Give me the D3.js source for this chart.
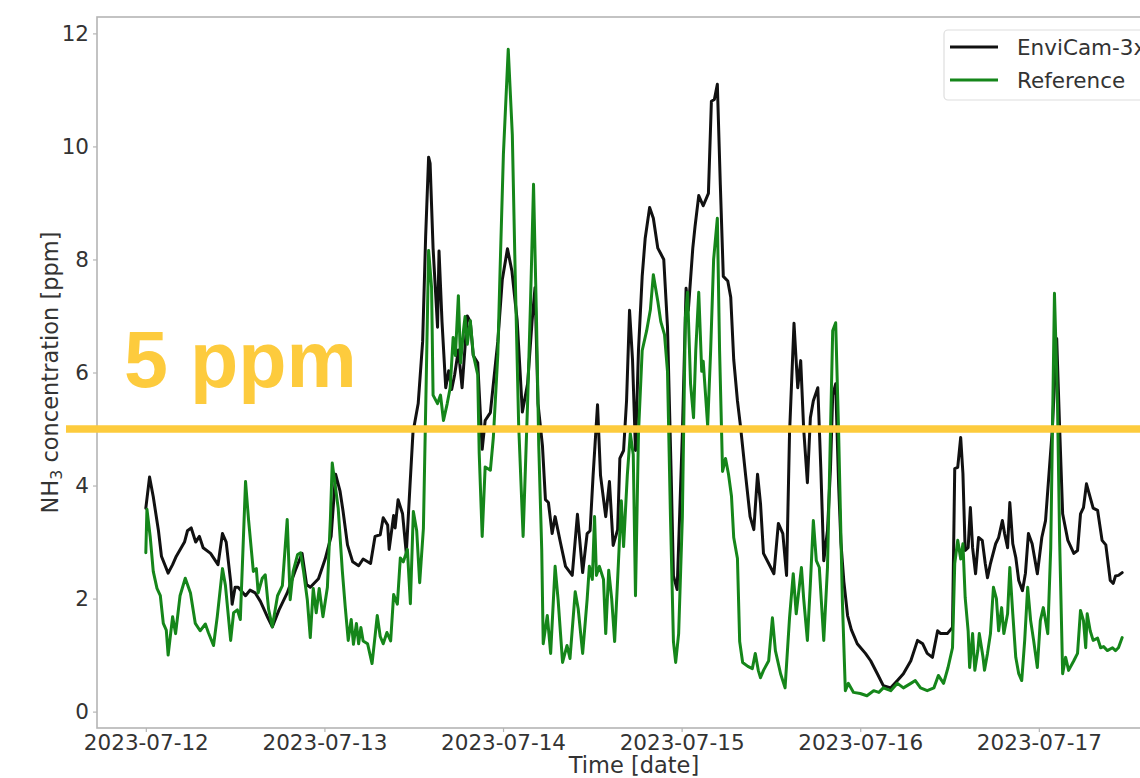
<!DOCTYPE html>
<html>
<head>
<meta charset="utf-8">
<script src="https://cdn.jsdelivr.net/npm/d3@7"></script>
<style>
  html, body { margin: 0; padding: 0; background: #fff; }
  svg { display: block; }
</style>
</head>
<body>
<svg id="chart" width="1140" height="778"></svg>
<script>
// ---------------- data (hours since 2023-07-12 00:00, ppm) ----------------
const envicamHours = [0.0,0.5,1.0,1.7,2.1,3.0,3.6,4.1,5.2,5.6,6.1,6.7,7.2,7.7,8.7,9.7,10.3,10.8,11.4,11.6,12.0,12.4,13.4,14.0,14.7,15.4,16.4,17.0,17.9,19.0,20.1,21.0,21.6,22.1,23.2,24.1,24.9,25.5,26.1,26.5,27.1,27.8,28.6,29.2,30.2,30.8,31.5,31.9,32.5,32.7,33.3,33.5,33.9,34.5,35.0,35.5,35.9,36.6,37.2,37.6,38.0,38.2,38.6,39.2,39.4,39.8,40.3,40.7,41.1,41.5,42.0,42.5,43.2,43.6,44.0,44.6,45.2,45.6,46.3,46.7,47.3,47.9,48.6,49.2,49.9,50.6,51.3,51.9,52.3,52.7,53.3,53.7,54.1,54.6,55.0,55.7,56.4,57.3,58.0,58.7,59.3,59.7,60.1,60.7,61.1,61.8,62.3,62.8,63.4,63.7,64.2,64.6,65.0,65.4,65.8,66.2,66.7,67.1,67.7,68.2,68.8,69.2,69.6,70.1,70.6,70.9,71.4,72.1,72.6,72.9,73.5,73.8,74.3,74.9,75.6,76.0,76.4,76.8,77.2,77.6,78.2,78.6,79.0,79.5,79.9,80.6,81.2,81.7,82.2,82.6,83.0,83.7,84.4,85.0,85.6,86.1,86.5,87.1,87.6,88.0,88.4,88.9,89.3,89.7,90.3,90.7,91.1,91.6,92.0,92.3,92.7,93.1,93.4,93.8,94.3,94.8,95.6,96.7,97.4,98.3,99.1,100.1,101.0,101.8,102.8,103.7,104.4,105.0,105.7,106.4,106.8,107.7,108.4,108.7,109.1,109.5,109.8,110.1,110.5,110.8,111.1,111.5,111.9,112.4,112.8,113.1,113.5,114.2,114.6,115.1,115.4,115.8,116.1,116.5,116.9,117.3,117.8,118.2,118.6,119.1,119.8,120.4,120.9,121.3,121.8,122.4,122.8,123.2,123.9,124.7,125.2,125.6,126.0,126.4,126.9,127.3,127.9,128.5,129.0,129.6,130.0,130.3,130.7,131.2];
const envicamValues = [3.6,4.15,3.8,3.2,2.75,2.45,2.6,2.75,3.0,3.2,3.25,3.0,3.1,2.9,2.8,2.6,3.15,3.0,2.3,1.9,2.2,2.2,2.05,2.15,2.1,1.95,1.66,1.5,1.8,2.1,2.5,2.8,2.25,2.2,2.35,2.7,3.1,4.2,3.9,3.55,2.95,2.65,2.58,2.7,2.62,3.1,3.13,3.43,3.3,2.87,3.47,3.25,3.75,3.5,2.8,4.0,4.94,5.45,6.55,8.4,9.81,9.7,8.2,6.8,8.15,6.9,5.73,6.03,5.7,5.96,6.4,5.73,7.0,6.9,6.3,6.17,4.64,5.15,5.29,5.8,6.55,7.64,8.19,7.79,6.92,5.3,5.8,6.9,7.5,5.45,4.7,3.75,3.7,3.15,3.45,3.0,2.57,2.41,3.49,2.46,3.15,3.2,4.17,5.43,4.18,3.45,4.07,2.94,3.22,4.48,4.62,5.5,7.1,6.23,4.62,6.39,7.7,8.37,8.92,8.73,8.2,8.1,8.0,6.81,4.17,2.4,2.16,4.92,7.49,7.1,8.2,8.58,9.13,8.95,9.17,10.8,10.83,11.1,9.32,7.7,7.62,7.33,6.23,5.5,5.06,4.18,3.45,3.22,4.2,3.68,2.8,2.62,2.44,3.33,3.15,2.41,4.92,6.87,5.73,6.21,5.0,4.05,5.2,5.5,5.73,4.32,2.67,3.2,4.3,5.6,5.8,4.0,3.0,2.3,1.7,1.45,1.2,1.03,0.9,0.67,0.46,0.42,0.55,0.67,0.9,1.26,1.2,1.03,0.96,1.43,1.38,1.38,1.49,4.3,4.32,4.85,4.21,2.85,2.9,3.61,2.9,2.44,3.08,3.03,2.62,2.37,2.62,2.97,3.08,3.38,3.15,2.9,3.7,2.97,2.73,2.32,2.14,2.45,3.15,2.97,2.44,3.08,3.38,4.09,4.97,6.6,5.0,3.5,3.03,2.8,2.85,3.5,3.61,4.03,3.79,3.6,3.56,3.03,2.95,2.32,2.27,2.4,2.41,2.46];

const referenceHours = [0.0,0.15,0.6,1.0,1.5,1.95,2.35,2.75,3.0,3.6,4.0,4.6,5.3,6.0,6.65,7.3,8.0,8.4,9.1,9.6,10.3,10.7,11.4,11.8,12.3,12.7,13.4,13.8,14.45,14.85,15.1,15.65,16.05,16.5,17.0,17.7,18.35,19.0,19.4,19.8,20.4,20.8,21.2,21.7,22.1,22.5,22.9,23.3,23.8,24.4,24.8,25.05,25.45,25.85,26.4,26.8,27.2,27.6,27.9,28.3,28.6,28.9,29.2,29.8,30.4,30.8,31.1,31.5,31.9,32.4,32.9,33.3,33.8,34.2,34.6,35.15,35.55,35.95,36.4,36.8,37.3,37.7,38.0,38.4,38.6,39.2,39.6,40.0,40.5,40.9,41.3,41.6,42.0,42.3,42.7,42.9,43.2,43.6,44.0,44.6,44.8,45.2,45.6,46.3,46.7,47.3,47.6,48.05,48.7,49.25,49.65,50.1,50.7,51.3,51.7,52.1,52.5,52.8,53.2,53.4,53.95,54.4,55.0,55.4,56.0,56.6,57.0,57.7,58.1,58.7,59.3,59.6,60.0,60.3,60.55,60.95,61.5,61.8,62.2,62.6,63.0,63.4,63.9,64.2,64.7,65.1,65.5,65.8,66.2,66.7,67.3,67.8,68.2,68.8,69.2,69.7,70.1,70.5,70.9,71.2,71.6,72.1,72.5,72.8,73.2,73.6,73.9,74.3,74.7,74.9,75.5,75.9,76.3,76.8,77.1,77.5,77.9,78.3,78.7,79.0,79.5,79.8,80.2,80.9,81.5,81.9,82.3,82.6,83.0,83.7,84.2,84.6,85.3,85.9,86.5,87.0,87.4,88.1,88.4,88.9,89.3,89.7,90.1,90.5,91.1,91.6,92.3,92.7,93.1,93.6,94.0,94.4,95.1,96.0,96.9,97.8,98.5,99.1,100.1,101.0,101.8,102.8,103.4,104.1,105.0,105.9,106.5,107.2,107.8,108.4,108.7,109.1,109.5,109.8,110.1,110.5,110.7,111.1,111.4,111.8,112.0,112.5,112.7,113.1,113.5,113.9,114.3,114.6,115.0,115.3,115.8,116.1,116.5,116.9,117.3,117.7,118.1,118.5,118.9,119.3,119.8,120.2,120.6,121.2,121.6,122.1,122.5,122.8,123.2,123.6,124.0,124.7,125.2,125.6,126.0,126.3,126.5,126.9,127.3,127.9,128.3,128.7,129.2,129.9,130.3,130.7,131.2];
const referenceValues = [2.81,3.58,3.08,2.48,2.18,2.05,1.56,1.44,1.0,1.68,1.38,2.05,2.36,2.1,1.56,1.43,1.55,1.4,1.17,1.68,2.53,2.23,1.26,1.75,1.8,1.63,4.07,3.4,2.48,2.53,2.1,2.36,2.42,1.81,1.5,2.05,2.23,3.4,1.98,2.48,2.78,2.81,2.48,1.98,1.31,2.18,1.75,2.18,1.68,2.2,3.4,4.4,4.0,3.6,2.5,1.85,1.26,1.63,1.19,1.56,1.2,1.49,1.25,1.2,0.85,1.33,1.7,1.33,1.2,1.4,1.25,2.07,1.9,2.72,2.65,2.87,1.91,3.54,3.2,2.28,3.24,6.0,8.16,7.5,5.6,5.45,5.6,5.15,5.45,5.73,6.62,6.3,7.36,6.17,6.76,6.99,6.5,6.92,6.32,5.96,4.57,3.1,4.33,4.27,4.85,6.32,7.79,9.86,11.72,10.2,7.65,5.08,3.1,5.45,7.27,9.33,6.92,4.71,2.87,1.2,1.7,1.03,2.57,1.98,0.87,1.17,0.94,2.12,1.82,1.03,1.98,2.57,2.34,3.45,2.41,2.57,2.34,1.38,2.5,2.0,1.24,2.34,3.73,2.92,4.18,4.92,4.55,2.05,4.92,6.39,6.74,7.11,7.73,7.26,6.9,6.67,6.02,3.45,1.24,0.87,1.38,3.45,6.97,7.42,5.8,5.2,6.39,7.42,6.02,6.2,5.06,6.39,8.0,8.73,6.39,4.25,4.48,4.2,3.81,3.08,2.71,1.24,0.87,0.8,0.76,1.03,0.73,0.6,0.73,0.9,1.66,1.08,0.67,0.42,1.66,2.44,1.73,2.55,2.0,1.26,2.26,3.38,2.67,2.55,1.26,2.55,6.74,6.88,4.92,1.96,0.37,0.5,0.34,0.32,0.28,0.37,0.34,0.42,0.37,0.5,0.42,0.5,0.55,0.42,0.37,0.42,0.64,0.5,0.78,1.13,2.62,3.03,2.7,2.97,2.02,1.43,0.78,1.38,0.73,1.08,1.38,0.96,0.73,1.03,1.38,2.2,2.0,1.43,1.84,1.38,1.73,2.55,1.73,0.96,0.67,0.55,1.26,2.2,1.61,1.26,0.78,1.61,1.84,1.38,2.9,7.4,5.5,3.0,0.67,0.96,0.73,0.9,1.03,1.79,1.61,1.13,1.73,1.43,1.26,1.3,1.13,1.15,1.08,1.13,1.08,1.13,1.31];

const seriesNames = ["EnviCam-3x", "Reference"];
const yTicks = [0, 2, 4, 6, 8, 10, 12];
const xTickDates = ["2023-07-12", "2023-07-13", "2023-07-14", "2023-07-15", "2023-07-16", "2023-07-17"];
const thresholdValue = 5;
const thresholdLabel = "5 ppm";
const xLabel = "Time [date]";
const yLabelMain = "NH", yLabelSub = "3", yLabelRest = " concentration [ppm]";

// ---------------- layout ----------------
const svg = d3.select("#chart");
const W = 1140, H = 778;
const plot = { left: 97, right: 1171, top: 17, bottom: 728 };
const base = new Date(2023, 6, 12, 0, 0, 0);
const toDate = h => new Date(base.getTime() + h * 3600e3);

const allH = envicamHours.concat(referenceHours);
const hMin = d3.min(allH), hMax = d3.max(allH);
const hPad = (hMax - hMin) * 0.05;
const x = d3.scaleTime()
  .domain([toDate(hMin - hPad), toDate(hMax + hPad)])
  .range([plot.left, plot.right]);
const y = d3.scaleLinear()
  .domain([-0.29, 12.29])
  .range([plot.bottom, plot.top]);

const sansFont = "'DejaVu Sans', sans-serif";
const fontSize = 21.5;
const labelSize = 22.5;
const textColor = "#333";
const spineColor = "#b5b5b5";

// axes
const parse = d3.timeParse("%Y-%m-%d");
const xAxis = d3.axisBottom(x)
  .tickValues(xTickDates.map(s => parse(s)))
  .tickFormat(d3.timeFormat("%Y-%m-%d"))
  .tickSize(4).tickSizeOuter(0).tickPadding(3);
const yAxis = d3.axisLeft(y)
  .tickValues(yTicks).tickFormat(d3.format("d"))
  .tickSize(4).tickSizeOuter(0).tickPadding(4);

const gx = svg.append("g").attr("transform", `translate(0,${plot.bottom})`).call(xAxis);
const gy = svg.append("g").attr("transform", `translate(${plot.left},0)`).call(yAxis);
[gx, gy].forEach(g => {
  g.select(".domain").remove();
  g.selectAll(".tick line").attr("stroke", spineColor).attr("stroke-width", 1.2);
  g.selectAll(".tick text").attr("fill", textColor)
    .style("font-size", fontSize + "px").style("font-family", sansFont);
});

// frame (spines)
svg.append("rect")
  .attr("x", plot.left).attr("y", plot.top)
  .attr("width", plot.right - plot.left).attr("height", plot.bottom - plot.top)
  .attr("fill", "none").attr("stroke", spineColor).attr("stroke-width", 1.6);

// series
const line = d3.line().x(d => x(toDate(d[0]))).y(d => y(d[1])).curve(d3.curveLinear);
const envData = envicamHours.map((h, i) => [h, envicamValues[i]]);
const refData = referenceHours.map((h, i) => [h, referenceValues[i]]);
const colors = ["#111111", "#15861a"];

svg.append("path").datum(envData).attr("d", line)
  .attr("fill", "none").attr("stroke", colors[0]).attr("stroke-width", 3)
  .attr("stroke-linejoin", "round").attr("stroke-linecap", "round");
svg.append("path").datum(refData).attr("d", line)
  .attr("fill", "none").attr("stroke", colors[1]).attr("stroke-width", 3)
  .attr("stroke-linejoin", "round").attr("stroke-linecap", "round");

// axis labels
svg.append("text")
  .attr("x", (plot.left + plot.right) / 2).attr("y", 773)
  .attr("text-anchor", "middle").attr("fill", textColor)
  .style("font-size", labelSize + "px").style("font-family", sansFont)
  .text(xLabel);

const yl = svg.append("text")
  .attr("transform", `translate(58,${(plot.top + plot.bottom) / 2}) rotate(-90)`)
  .attr("text-anchor", "middle").attr("fill", textColor)
  .style("font-size", labelSize + "px").style("font-family", sansFont);
yl.append("tspan").text(yLabelMain);
yl.append("tspan").style("font-size", (labelSize * 0.7) + "px").attr("dy", 4).text(yLabelSub);
yl.append("tspan").attr("dy", -4).text(yLabelRest);

// legend
const lg = svg.append("g");
lg.append("rect").attr("x", 944).attr("y", 30).attr("width", 260).attr("height", 70)
  .attr("rx", 4).attr("fill", "#fff").attr("fill-opacity", 0.85)
  .attr("stroke", "#dedede").attr("stroke-width", 1.2);
seriesNames.forEach((name, i) => {
  const ly = 47 + i * 33;
  lg.append("line").attr("x1", 950).attr("x2", 998).attr("y1", ly).attr("y2", ly)
    .attr("stroke", colors[i]).attr("stroke-width", 3);
  lg.append("text").attr("x", 1017).attr("y", ly + 8).attr("fill", textColor)
    .style("font-size", fontSize + "px").style("font-family", sansFont)
    .text(name);
});

// threshold line + label
const yellow = "#fdcb3d";
svg.append("line")
  .attr("x1", 66).attr("x2", W)
  .attr("y1", y(thresholdValue)).attr("y2", y(thresholdValue))
  .attr("stroke", yellow).attr("stroke-width", 7.5);
svg.append("text")
  .attr("x", 124).attr("y", 387)
  .attr("fill", yellow)
  .style("font-family", "'Liberation Sans', Arial, sans-serif")
  .style("font-weight", "bold").style("font-size", "79px")
  .text(thresholdLabel);
</script>
</body>
</html>
